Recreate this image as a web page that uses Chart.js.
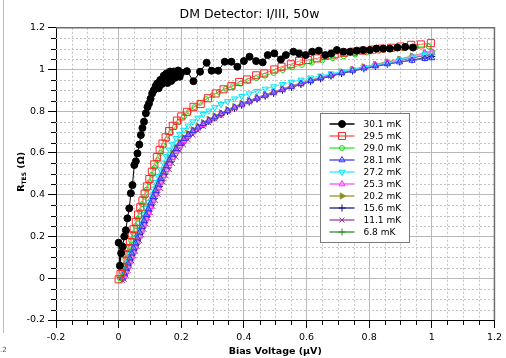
<!DOCTYPE html>
<html><head><meta charset="utf-8">
<script src="https://cdn.jsdelivr.net/npm/chart.js@4/dist/chart.umd.min.js"></script>
<style>html,body{margin:0;padding:0;background:#fff;}#wrap{width:506px;height:358px;position:relative;}</style>
</head><body><div id="wrap"><canvas id="c" width="506" height="358"></canvas></div>
<script>
// ---------- text ----------
const chartTitle = 'DM Detector: I/III, 50w';
const xAxisTitle = 'Bias Voltage (\u03bcV)';
const yAxisMain = 'R', yAxisSub = 'TES', yAxisUnit = ' (\u03a9)';
const seriesLabels = ['30.1 mK','29.5 mK','29.0 mK','28.1 mK','27.2 mK','25.3 mK','20.2 mK','15.6 mK','11.1 mK','6.8 mK'];
const axisMin = -0.2, axisMax = 1.2, majorStep = 0.2, minorStep = 0.05;

// ---------- data: 30.1 mK ----------
const bias_30_1 = [0.0,0.004,0.008,0.013,0.018,0.023,0.028,0.034,0.039,0.044,0.05,0.055,0.06,0.066,0.071,0.076,0.081,0.087,0.092,0.097,0.102,0.107,0.112,0.118,0.123,0.128,0.133,0.138,0.144,0.148,0.152,0.156,0.16,0.164,0.168,0.172,0.176,0.18,0.185,0.19,0.195,0.2,0.218,0.239,0.26,0.281,0.297,0.318,0.339,0.36,0.379,0.4,0.418,0.439,0.46,0.476,0.497,0.518,0.534,0.558,0.576,0.597,0.618,0.639,0.66,0.679,0.697,0.718,0.739,0.76,0.781,0.802,0.823,0.845,0.866,0.89,0.915,0.94];
const res_30_1 = [0.17,0.06,0.12,0.151,0.2,0.23,0.287,0.335,0.407,0.446,0.542,0.56,0.598,0.64,0.686,0.72,0.75,0.79,0.82,0.837,0.86,0.885,0.9,0.92,0.933,0.91,0.95,0.93,0.97,0.95,0.98,0.935,0.96,0.99,0.945,0.975,0.99,0.96,0.98,0.995,0.965,0.985,0.992,0.944,0.989,1.032,0.994,0.994,1.037,1.037,1.013,1.04,1.061,1.04,1.034,1.069,1.077,1.048,1.069,1.085,1.077,1.069,1.085,1.09,1.069,1.077,1.093,1.085,1.085,1.09,1.093,1.093,1.1,1.1,1.1,1.105,1.108,1.105];

// ---------- data: 29.5 mK ----------
const bias_29_5 = [0.0,0.006,0.012,0.018,0.024,0.03,0.036,0.042,0.048,0.055,0.062,0.069,0.076,0.083,0.09,0.098,0.106,0.114,0.122,0.131,0.14,0.15,0.161,0.173,0.186,0.2,0.218,0.239,0.262,0.285,0.31,0.335,0.36,0.385,0.41,0.439,0.465,0.497,0.52,0.55,0.576,0.605,0.634,0.66,0.69,0.72,0.75,0.78,0.81,0.84,0.87,0.9,0.934,0.965,0.997];
const res_29_5 = [-0.005,0.02,0.055,0.085,0.115,0.145,0.175,0.205,0.235,0.27,0.305,0.34,0.372,0.405,0.44,0.475,0.51,0.545,0.58,0.615,0.645,0.675,0.705,0.73,0.755,0.775,0.797,0.821,0.835,0.862,0.885,0.905,0.92,0.94,0.952,0.972,0.981,1.0,1.013,1.025,1.04,1.045,1.053,1.065,1.072,1.08,1.085,1.09,1.095,1.1,1.104,1.11,1.118,1.12,1.126];

// ---------- data: 29.0 mK ----------
const bias_29_0 = [0.004,0.01,0.016,0.022,0.028,0.034,0.04,0.047,0.054,0.061,0.068,0.075,0.082,0.09,0.098,0.106,0.115,0.124,0.134,0.144,0.155,0.167,0.18,0.194,0.209,0.225,0.242,0.26,0.279,0.299,0.32,0.342,0.365,0.389,0.414,0.44,0.467,0.495,0.524,0.554,0.585,0.617,0.65,0.684,0.719,0.755,0.792,0.83,0.869,0.909,0.95,0.99];
const res_29_0 = [0.0,0.03,0.06,0.09,0.12,0.15,0.18,0.215,0.25,0.285,0.32,0.355,0.39,0.425,0.46,0.495,0.53,0.565,0.6,0.635,0.665,0.695,0.725,0.75,0.775,0.798,0.82,0.84,0.858,0.875,0.892,0.907,0.92,0.932,0.945,0.958,0.97,0.983,0.997,1.01,1.022,1.033,1.044,1.054,1.063,1.072,1.081,1.089,1.096,1.102,1.107,1.11];

// ---------- data: colder series (shared bias sweep) ----------
const biasCold = [0.012,0.018,0.024,0.03,0.036,0.042,0.048,0.054,0.06,0.067,0.074,0.081,0.088,0.095,0.102,0.11,0.118,0.126,0.134,0.143,0.152,0.162,0.172,0.183,0.195,0.208,0.222,0.237,0.253,0.27,0.288,0.307,0.327,0.348,0.37,0.393,0.417,0.442,0.468,0.495,0.523,0.552,0.582,0.613,0.645,0.678,0.712,0.747,0.783,0.82,0.858,0.897,0.937,0.978,1.0];
const res_28_1 = [0.0,0.024,0.048,0.072,0.096,0.12,0.144,0.168,0.192,0.22,0.248,0.276,0.304,0.332,0.36,0.39,0.42,0.45,0.478,0.508,0.538,0.566,0.593,0.62,0.645,0.668,0.688,0.706,0.723,0.74,0.756,0.772,0.788,0.803,0.818,0.833,0.848,0.862,0.876,0.89,0.904,0.918,0.932,0.946,0.959,0.971,0.983,0.995,1.006,1.016,1.026,1.035,1.043,1.051,1.055];
const res_27_2 = [0.015,0.04,0.065,0.09,0.115,0.14,0.165,0.19,0.215,0.245,0.275,0.305,0.335,0.365,0.395,0.428,0.46,0.49,0.52,0.553,0.585,0.615,0.643,0.67,0.69,0.71,0.73,0.75,0.768,0.785,0.802,0.818,0.833,0.847,0.86,0.872,0.884,0.896,0.907,0.918,0.929,0.94,0.95,0.96,0.97,0.98,0.99,1.0,1.01,1.02,1.03,1.045,1.06,1.072,1.078];
const res_25_3 = [0.0,0.008,0.03,0.054,0.078,0.102,0.126,0.15,0.174,0.202,0.23,0.258,0.286,0.314,0.342,0.372,0.402,0.432,0.46,0.49,0.52,0.55,0.578,0.607,0.633,0.658,0.68,0.7,0.718,0.736,0.753,0.77,0.786,0.802,0.817,0.832,0.847,0.862,0.876,0.891,0.905,0.919,0.933,0.947,0.96,0.973,0.986,0.998,1.01,1.022,1.034,1.046,1.062,1.078,1.085];
const res_20_2 = [0.005,0.03,0.054,0.078,0.102,0.126,0.15,0.174,0.198,0.226,0.254,0.282,0.31,0.338,0.366,0.396,0.426,0.456,0.485,0.515,0.545,0.574,0.601,0.628,0.652,0.674,0.694,0.712,0.729,0.746,0.762,0.778,0.793,0.808,0.823,0.838,0.852,0.866,0.88,0.894,0.908,0.922,0.936,0.95,0.963,0.976,0.989,1.001,1.013,1.025,1.037,1.05,1.065,1.08,1.088];
const res_15_6 = [0.0,0.015,0.038,0.062,0.086,0.11,0.134,0.158,0.182,0.21,0.238,0.266,0.294,0.322,0.35,0.38,0.41,0.44,0.468,0.498,0.528,0.557,0.585,0.612,0.638,0.661,0.682,0.701,0.719,0.736,0.752,0.768,0.784,0.799,0.814,0.829,0.844,0.858,0.872,0.886,0.9,0.914,0.928,0.942,0.955,0.968,0.98,0.992,1.003,1.014,1.025,1.036,1.046,1.056,1.062];
const res_11_1 = [-0.01,-0.005,0.015,0.038,0.061,0.084,0.107,0.13,0.153,0.18,0.207,0.234,0.26,0.287,0.313,0.343,0.373,0.402,0.43,0.46,0.49,0.52,0.55,0.58,0.61,0.638,0.663,0.686,0.707,0.727,0.745,0.763,0.78,0.797,0.813,0.829,0.844,0.859,0.873,0.887,0.901,0.915,0.929,0.943,0.956,0.969,0.982,0.994,1.006,1.018,1.03,1.042,1.055,1.068,1.074];
const res_6_8 = [0.0,0.012,0.035,0.058,0.082,0.106,0.13,0.154,0.178,0.206,0.234,0.262,0.29,0.318,0.346,0.376,0.406,0.436,0.465,0.495,0.525,0.554,0.582,0.61,0.636,0.66,0.681,0.7,0.718,0.735,0.752,0.768,0.784,0.8,0.815,0.83,0.845,0.86,0.874,0.888,0.902,0.916,0.93,0.944,0.957,0.97,0.983,0.996,1.008,1.02,1.032,1.044,1.056,1.066,1.07];

const seriesX = [bias_30_1, bias_29_5, bias_29_0, biasCold, biasCold, biasCold, biasCold, biasCold, biasCold, biasCold];
const seriesY = [res_30_1, res_29_5, res_29_0, res_28_1, res_27_2, res_25_3, res_20_2, res_15_6, res_11_1, res_6_8];

// ---------- styles ----------
const CLEAR = 'rgba(0,0,0,0)';
const seriesStyle = [
  {color:'#000000', line:'#000000', style:'circle',   r:3.5, fill:'#000000', rot:0},
  {color:'#ff2424', line:'#ff6a6a', style:'rect',     r:5,   fill:CLEAR, rot:0},
  {color:'#12dd12', line:'#44ee44', style:'circle',   r:2.5, fill:CLEAR, rot:0},
  {color:'#3030ff', line:'#5858ff', style:'triangle', r:3.5, fill:CLEAR, rot:0},
  {color:'#00e4f4', line:'#44eeff', style:'triangle', r:3.5, fill:CLEAR, rot:180},
  {color:'#ff30ff', line:'#ff66ff', style:'triangle', r:3.5, fill:'rgba(255,160,255,0.7)', rot:0},
  {color:'#8e8e22', line:'#a4a444', style:'triangle', r:3.5, fill:'#8e8e22', rot:90},
  {color:'#12127e', line:'#3a3a96', style:'cross',    r:3.5, fill:CLEAR, rot:0},
  {color:'#9a2f9a', line:'#a858a8', style:'crossRot', r:3.5, fill:CLEAR, rot:0},
  {color:'#2e8e2e', line:'#44a044', style:'cross',    r:3.5, fill:CLEAR, rot:0}
];
const FONT = '"DejaVu Sans", Verdana, sans-serif';

const datasets = seriesLabels.map((lab, i) => {
  const st = seriesStyle[i];
  return {
    label: lab,
    data: seriesX[i].map((v, k) => ({x: v, y: seriesY[i][k]})),
    borderColor: st.line, borderWidth: 1, showLine: true, fill: false, tension: 0,
    pointStyle: st.style, pointRadius: st.r, pointRotation: st.rot,
    pointBorderColor: st.color, pointBackgroundColor: st.fill, pointBorderWidth: 1,
    pointHoverRadius: st.r
  };
});

function drawMarker(ctx, st, x, y) {
  ctx.save();
  ctx.fillStyle = st.fill; ctx.strokeStyle = st.color; ctx.lineWidth = 1;
  if (Chart.helpers && Chart.helpers.drawPoint) {
    Chart.helpers.drawPoint(ctx, {pointStyle: st.style, rotation: st.rot, radius: st.r, borderWidth: 1}, x, y);
  } else {
    ctx.beginPath(); ctx.arc(x, y, st.r, 0, Math.PI * 2); ctx.fill(); ctx.stroke();
  }
  ctx.restore();
}

const gridPlugin = {
  id: 'minorGrid',
  beforeDatasetsDraw(chart) {
    const {ctx, chartArea: a, scales: {x, y}} = chart;
    ctx.save();
    ctx.lineWidth = 1; ctx.strokeStyle = '#c2c2c2'; ctx.setLineDash([2, 2]);
    const n = Math.round((axisMax - axisMin) / minorStep);
    const per = Math.round(majorStep / minorStep);
    for (let i = 1; i < n; i++) {
      if (i % per === 0) continue;
      const v = axisMin + i * minorStep;
      const px = Math.round(x.getPixelForValue(v)) + 0.5;
      ctx.beginPath(); ctx.moveTo(px, a.top); ctx.lineTo(px, a.bottom); ctx.stroke();
      const py = Math.round(y.getPixelForValue(v)) + 0.5;
      ctx.beginPath(); ctx.moveTo(a.left, py); ctx.lineTo(a.right, py); ctx.stroke();
    }
    ctx.setLineDash([]); ctx.strokeStyle = '#000';
    for (let i = 1; i < n; i++) {
      if (i % per === 0) continue;
      const v = axisMin + i * minorStep;
      const px = Math.round(x.getPixelForValue(v)) + 0.5;
      ctx.beginPath(); ctx.moveTo(px, a.bottom); ctx.lineTo(px, a.bottom + 5); ctx.stroke();
      const py = Math.round(y.getPixelForValue(v)) + 0.5;
      ctx.beginPath(); ctx.moveTo(a.left - 5, py); ctx.lineTo(a.left, py); ctx.stroke();
    }
    // plot frame top / right
    ctx.strokeStyle = '#6e6e6e'; ctx.lineWidth = 1.5;
    ctx.beginPath(); ctx.moveTo(a.left, a.top); ctx.lineTo(a.right, a.top); ctx.lineTo(a.right, a.bottom); ctx.stroke();
    ctx.restore();
  }
};

const legendPlugin = {
  id: 'boxLegend',
  afterDatasetsDraw(chart) {
    const {ctx, chartArea: a} = chart;
    const left = Math.round(a.left + 264) + 0.5, top = Math.round(a.top + 85) + 0.5;
    const w = 89, h = 129;
    ctx.save();
    ctx.fillStyle = '#fff'; ctx.fillRect(left, top, w, h);
    ctx.strokeStyle = '#7a7a7a'; ctx.lineWidth = 1; ctx.strokeRect(left, top, w, h);
    ctx.font = '9px ' + FONT; ctx.textBaseline = 'middle'; ctx.textAlign = 'left'; ctx.fillStyle = '#000';
    seriesLabels.forEach((lab, i) => {
      const st = seriesStyle[i];
      const cy = Math.round(top + 10 + i * 12);
      ctx.strokeStyle = st.line; ctx.lineWidth = 1.5;
      ctx.beginPath(); ctx.moveTo(left + 9, cy); ctx.lineTo(left + 34, cy); ctx.stroke();
      drawMarker(ctx, st, left + 21.5, cy);
      ctx.fillStyle = '#000';
      ctx.fillText(lab, left + 43, cy + 0.5);
    });
    ctx.restore();
  },
  afterDraw(chart) {
    const {ctx, chartArea: a} = chart;
    ctx.save();
    // y-axis title with subscript
    const cx = 20, cy = (a.top + a.bottom) / 2 - 2;
    ctx.translate(cx, cy); ctx.rotate(-Math.PI / 2);
    const fMain = 'bold 9.5px ' + FONT, fSub = 'bold 6px ' + FONT;
    ctx.font = fMain; const w1 = ctx.measureText(yAxisMain).width, w3 = ctx.measureText(yAxisUnit).width;
    ctx.font = fSub; const w2 = ctx.measureText(yAxisSub).width;
    let x0 = -(w1 + w2 + w3) / 2;
    ctx.fillStyle = '#000'; ctx.textBaseline = 'alphabetic'; ctx.textAlign = 'left';
    ctx.font = fMain; ctx.fillText(yAxisMain, x0, 4);
    ctx.font = fSub; ctx.fillText(yAxisSub, x0 + w1, 6);
    ctx.font = fMain; ctx.fillText(yAxisUnit, x0 + w1 + w2, 4);
    ctx.restore();
    // neighbouring-panel edge at far left
    ctx.save();
    ctx.strokeStyle = '#bdbdbd'; ctx.lineWidth = 1;
    ctx.beginPath(); ctx.moveTo(3.5, 0); ctx.lineTo(3.5, 333); ctx.stroke();
    ctx.fillStyle = '#555'; ctx.font = '7px ' + FONT; ctx.textBaseline = 'middle';
    ctx.fillText('.2', 0, 350);
    ctx.restore();
  }
};

const fmt = v => String(Math.round(v * 10) / 10);

new Chart(document.getElementById('c'), {
  type: 'line',
  data: {datasets},
  options: {
    responsive: false, animation: false, devicePixelRatio: 1,
    layout: {padding: {left: 0, right: 7, top: 0, bottom: 0}},
    plugins: {
      legend: {display: false}, tooltip: {enabled: false},
      title: {display: true, text: chartTitle, color: '#000', font: {family: FONT, size: 12.5, weight: 'normal', lineHeight: 1.2}, padding: {top: 7.5, bottom: 5.2}}
    },
    scales: {
      x: {
        type: 'linear', min: axisMin, max: axisMax,
        ticks: {stepSize: majorStep, color: '#000', font: {family: FONT, size: 9.5}, padding: 4, maxRotation: 0, autoSkip: false, callback: fmt},
        grid: {color: '#b8b8b8', lineWidth: 1, tickLength: 8, tickColor: '#000'},
        border: {color: '#000', width: 1},
        title: {display: true, text: xAxisTitle, color: '#000', font: {family: FONT, size: 9.5, weight: 'bold'}, padding: {top: 0, bottom: 1}},
        afterFit(s) { s.height = 38; }
      },
      y: {
        type: 'linear', min: axisMin, max: axisMax,
        ticks: {stepSize: majorStep, color: '#000', font: {family: FONT, size: 9.5}, padding: 3, autoSkip: false, callback: fmt},
        grid: {color: '#b8b8b8', lineWidth: 1, tickLength: 8, tickColor: '#000'},
        border: {color: '#000', width: 1},
        afterFit(s) { s.width = 56; }
      }
    }
  },
  plugins: [gridPlugin, legendPlugin]
});
</script>
</body></html>
